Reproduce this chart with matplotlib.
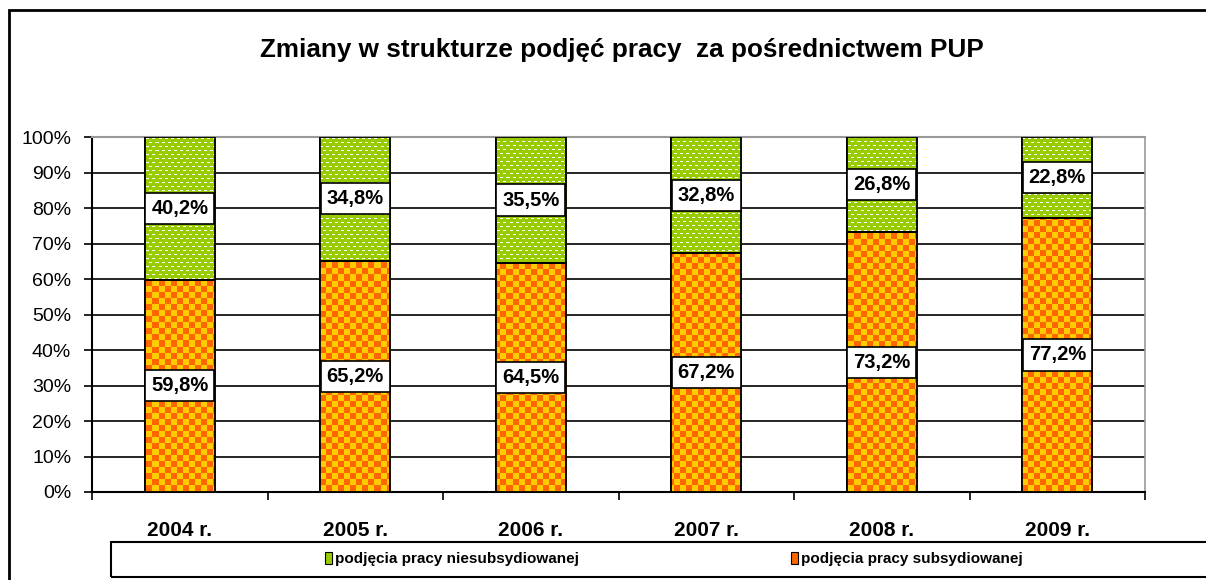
import numpy as np
import matplotlib
matplotlib.use('Agg')
from matplotlib import pyplot as plt
from matplotlib.patches import Rectangle, Patch

plt.rcParams['font.family'] = ['Liberation Sans', 'DejaVu Sans']

# data
years = ['2004 r.', '2005 r.', '2006 r.', '2007 r.', '2008 r.', '2009 r.']
subsydiowane = [59.8, 65.2, 64.5, 67.2, 73.2, 77.2]
niesubsydiowane = [40.2, 34.8, 35.5, 32.8, 26.8, 22.8]
series_names = ['podjęcia pracy niesubsydiowanej', 'podjęcia pracy subsydiowanej']

GREEN = '#99CC00'
ORANGE = '#FF6600'
YELLOW = '#FFCC00'

W, H = 1206, 580
fig = plt.figure(figsize=(W / 100, H / 100), dpi=100)
ax_l, ax_r, ax_t, ax_b = 92, 1145, 137, 492
ax = fig.add_axes([ax_l / W, 1 - ax_b / H, (ax_r - ax_l) / W, (ax_b - ax_t) / H])

x = np.arange(len(years))
sub = np.array(subsydiowane) / 100
nsub = np.array(niesubsydiowane) / 100

bars_sub = ax.bar(x, sub, width=0.4, color=ORANGE, edgecolor='black', linewidth=1.3, zorder=3)
bars_nsub = ax.bar(x, nsub, width=0.4, bottom=sub, color=GREEN, edgecolor='black', linewidth=1.3, zorder=3)

# pixel patterns (checkerboard / dotted) clipped to the bars
pw, ph = ax_r - ax_l, ax_b - ax_t
rr, cc = np.mgrid[0:ph, 0:pw]
checker = ((rr // 6 + cc // 6) % 2 == 0)
img_o = np.zeros((ph, pw, 3))
img_o[:] = matplotlib.colors.to_rgb(ORANGE)
img_o[checker] = matplotlib.colors.to_rgb(YELLOW)

dots = ((rr % 4) == 1) & (((cc + 3 * ((rr // 4) % 2)) % 6) < 3)
img_g = np.zeros((ph, pw, 3))
img_g[:] = matplotlib.colors.to_rgb(GREEN)
img_g[dots] = (1, 1, 1)

ext = (-0.5, len(years) - 0.5, 0, 1)
for bars, img in ((bars_sub, img_o), (bars_nsub, img_g)):
    for b in bars:
        im = ax.imshow(img, extent=ext, aspect='auto', interpolation='nearest', zorder=3.5)
        im.set_clip_path(b)
        # redraw outline on top
        ax.add_patch(Rectangle(b.get_xy(), b.get_width(), b.get_height(), fill=False,
                               edgecolor='black', linewidth=1.3, zorder=4))

ax.set_xlim(-0.5, len(years) - 0.5)
ax.set_ylim(0, 1)

# value labels
for i in range(len(years)):
    for val, bottom in ((subsydiowane[i], 0), (niesubsydiowane[i], sub[i])):
        ax.text(x[i], bottom + val / 200, f'{val:.1f}%'.replace('.', ','),
                ha='center', va='center', fontsize=14.5, fontweight='bold', zorder=5,
                bbox=dict(boxstyle='square,pad=0.3', facecolor='white', edgecolor='black', linewidth=1.2))

# grid and axes
ax.set_yticks(np.arange(0, 1.01, 0.1))
ax.set_yticklabels([f'{int(v)}%' for v in np.arange(0, 101, 10)], fontsize=14)
ax.yaxis.grid(True, color='black', linewidth=1.2, zorder=0)
ax.set_axisbelow(True)
ax.tick_params(axis='y', length=6, width=1.2, direction='out', pad=9)

ax.set_xticks(x)
ax.set_xticklabels(years, fontsize=15, fontweight='bold')
ax.tick_params(axis='x', which='major', length=0, pad=21)
ax.set_xticks(np.arange(-0.5, len(years), 1), minor=True)
ax.tick_params(axis='x', which='minor', length=6, width=1.2, direction='out')

ax.spines['left'].set_linewidth(1.5)
ax.spines['bottom'].set_linewidth(1.5)
ax.spines['top'].set_color('#999999')
ax.spines['right'].set_color('#999999')
ax.spines['top'].set_linewidth(1.5)
ax.spines['right'].set_linewidth(1.2)

# title
fig.text(622 / W, 1 - 50 / H, 'Zmiany w strukturze podjęć pracy  za pośrednictwem PUP',
         ha='center', va='center', fontsize=18.8, fontweight='bold')

# outer frame and legend frame
fig.patches.append(Rectangle((9 / W, -0.1), 1.2, 1 - 10 / H + 0.1, transform=fig.transFigure,
                             fill=False, edgecolor='black', linewidth=2))
fig.patches.append(Rectangle((111 / W, 1 - 577 / H), 1.2, 35 / H, transform=fig.transFigure,
                             fill=False, edgecolor='black', linewidth=1.5))

handles = [Patch(facecolor=GREEN, edgecolor='black', linewidth=0.8),
           Patch(facecolor=ORANGE, edgecolor='black', linewidth=0.8)]
fig.legend(handles, series_names, loc='center', bbox_to_anchor=(674 / W, 1 - 559 / H),
           ncol=2, frameon=False, prop={'size': 11, 'weight': 'bold'},
           handlelength=0.45, handleheight=0.8, handletextpad=0.2, columnspacing=13.9)

fig.savefig('out.png', dpi=100)
